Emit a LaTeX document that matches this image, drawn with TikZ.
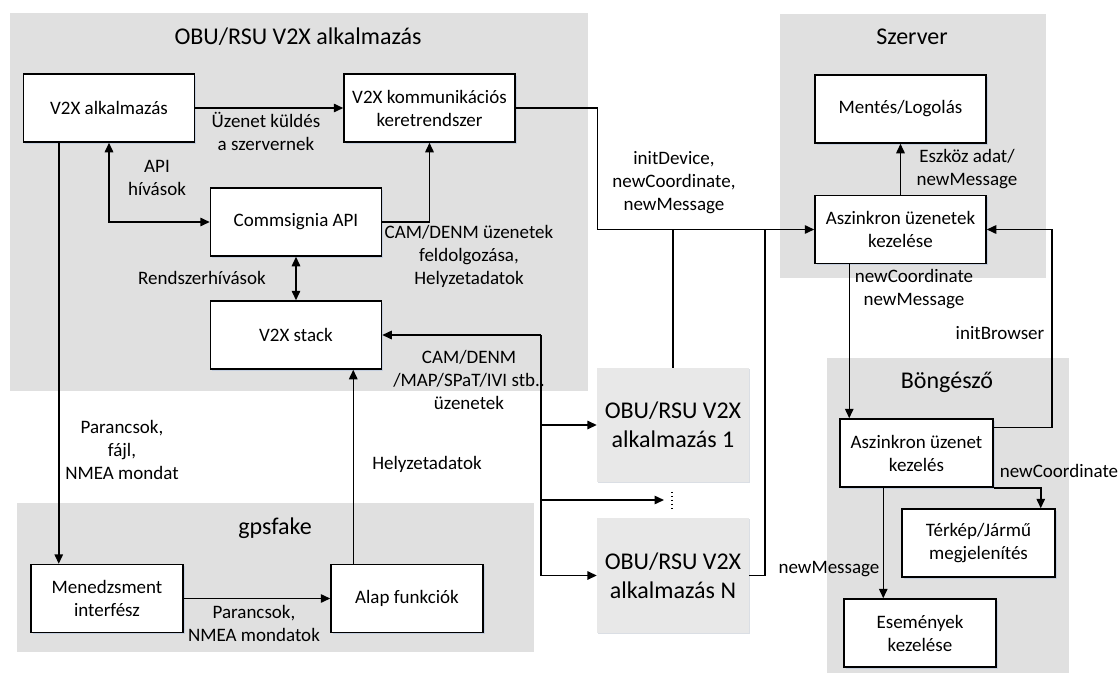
\documentclass[tikz,border=0pt]{standalone}
\usepackage{fontspec}
\setmainfont{Carlito}
\usetikzlibrary{arrows.meta,shadows}
\definecolor{grpgray}{RGB}{224,224,224}
\definecolor{obugray}{RGB}{232,232,232}
\definecolor{shadowc}{RGB}{196,206,222}
\begin{document}
\begin{tikzpicture}[x=1pt,y=-1pt,
  every node/.style={font=\fontsize{19}{23}\selectfont, inner sep=0pt},
  grp/.style={fill=grpgray, draw=none},
  ttl/.style={font=\fontsize{24}{29}\selectfont},
  box/.style={draw=black, fill=white, line width=1.5pt, align=center,
    minimum width=171pt, minimum height=68pt,
    general shadow={fill=shadowc, shadow xshift=1.5pt, shadow yshift=-1.5pt}},
  obubox/.style={fill=obugray, align=center, minimum width=152pt,
    minimum height=114pt, font=\fontsize{24}{29}\selectfont,
    general shadow={fill=shadowc!40!obugray, shadow xshift=1.2pt, shadow yshift=-1.2pt}},
  lbl/.style={align=center},
  ln/.style={line width=1.5pt},
  arr/.style={ln, -{Triangle[length=9.5pt,width=8.5pt]}},
  dbl/.style={ln, {Triangle[length=9.5pt,width=8.5pt]}-{Triangle[length=9.5pt,width=8.5pt]}},
]
\useasboundingbox (0,0) rectangle (1120,675);
\fill[white] (0,0) rectangle (1120,675);

% grouping panels
\path[grp] (10,13) rectangle (588,391);
\path[grp] (17,503) rectangle (534,652);
\path[grp] (780,14) rectangle (1046,278);
\path[grp] (827,358) rectangle (1069,673);

% panel titles
\node[ttl] (tmain) at (298,37) {OBU/RSU V2X alkalmazás};
\node[ttl] (tsrv) at (912,37) {Szerver};
\node[ttl] (tgps) at (275,528) {gpsfake};
\node[ttl] (tbrw) at (947,382) {Böngésző};

% components
\node[box] (v2x) at (109,108) {V2X alkalmazás};
\node[box] (komm) at (429.5,108) {V2X kommunikációs\\keretrendszer};
\node[box] (comm) at (296,222) {Commsignia API};
\node[box] (stack) at (296,335) {V2X stack};
\node[box, minimum width=152pt] (men) at (107,598.5) {Menedzsment\\interfész};
\node[box, minimum width=152pt] (alap) at (407,598.5) {Alap funkciók};
\node[box] (ment) at (900.5,109) {Mentés/Logolás};
\node[box] (asz) at (900.5,229.5) {Aszinkron üzenetek\\kezelése};
\node[box, minimum width=153pt] (basz) at (916.5,453) {Aszinkron üzenet\\kezelés};
\node[box, minimum width=153pt] (terk) at (978.5,543) {Térkép/Jármű\\megjelenítés};
\node[box, minimum width=152pt] (esem) at (920,633) {Események\\kezelése};
\node[obubox] (obu1) at (673,425) {OBU/RSU V2X\\alkalmazás 1};
\node[obubox, minimum height=115pt] (obun) at (673,575.5) {OBU/RSU V2X\\alkalmazás N};

% continuation dots between the device instances
\node[minimum height=16pt, minimum width=0pt] (dots) at (672,500) {};
\draw[line width=1.2pt, dash pattern=on 1.5pt off 2.5pt] (dots.north) -- (dots.south);

% connectors inside the application
\draw[arr] (v2x.east) -- (komm.west);
\draw[dbl] (v2x.south) |- (comm.west);
\draw[arr] (comm.east) -| (komm.south);
\draw[dbl] (comm.south) -- (stack.north);
\draw[arr] ([xshift=36pt]v2x.south west) -- ([xshift=36pt]v2x.south west |- men.north);
\draw[arr] ([xshift=23pt]alap.north west) -- ([xshift=23pt]alap.north west |- stack.south);
\draw[arr] (men.east) -- (alap.west);

% message bus towards the devices
\coordinate (bt) at (541,335);
\coordinate (bb) at (541,575.5);
\draw[arr] (bt) -- (stack.east);
\draw[ln] (bt) -- (bb);
\draw[arr] (bt |- obu1.west) -- (obu1.west);
\draw[arr] (bt |- dots.center) -- ([xshift=-8pt]dots.center);
\draw[arr] (bb) -- (obun.west);

% links to the server
\draw[arr] (komm.east) -- ++(81.5,0) |- (asz.west);
\draw[ln] (obu1.north) -- (obu1.north |- asz.west);
\draw[ln] (obun.east) -- ++(16,0) coordinate (nj) -- (nj |- asz.west);
\draw[arr] (asz.north) -- (ment.south);

% server and browser
\draw[arr] ([xshift=35pt]asz.south west) -- ([xshift=35pt]asz.south west |- basz.north);
\draw[arr] ([yshift=-9pt]basz.north east) -- ++(58,0) |- (asz.east);
\draw[arr] (basz.south east) -| ([xshift=-15pt]terk.north east);
\draw[arr] ([xshift=44pt]basz.south west) -- ([xshift=44pt]basz.south west |- esem.north);

% connector labels
\node[lbl] (l1) at (266,131.5) {Üzenet küldés\\a szervernek};
\node[lbl] (l2) at (157,178) {API\\hívások};
\node[lbl] (l3) at (469,256) {CAM/DENM üzenetek\\feldolgozása,\\Helyzetadatok};
\node[lbl] (l4) at (202,278) {Rendszerhívások};
\node[lbl] (l5) at (469,380) {CAM/DENM\\/MAP/SPaT/IVI stb..\\üzenetek};
\node[lbl] (l6) at (122,449.5) {Parancsok,\\fájl,\\NMEA mondat};
\node[lbl] (l7) at (427,464) {Helyzetadatok};
\node[lbl] (l8) at (254,623) {Parancsok,\\NMEA mondatok};
\node[lbl] (l9) at (674,183) {initDevice,\\newCoordinate,\\newMessage};
\node[lbl] (l10) at (967,169.5) {Eszköz adat/\\newMessage};
\node[lbl] (l11) at (914,289.5) {newCoordinate\\newMessage};
\node[lbl] (l12) at (1000,333) {initBrowser};
\node[lbl] (l13) at (1059,471) {newCoordinate};
\node[lbl] (l14) at (829,569) {newMessage};
\end{tikzpicture}
\end{document}
